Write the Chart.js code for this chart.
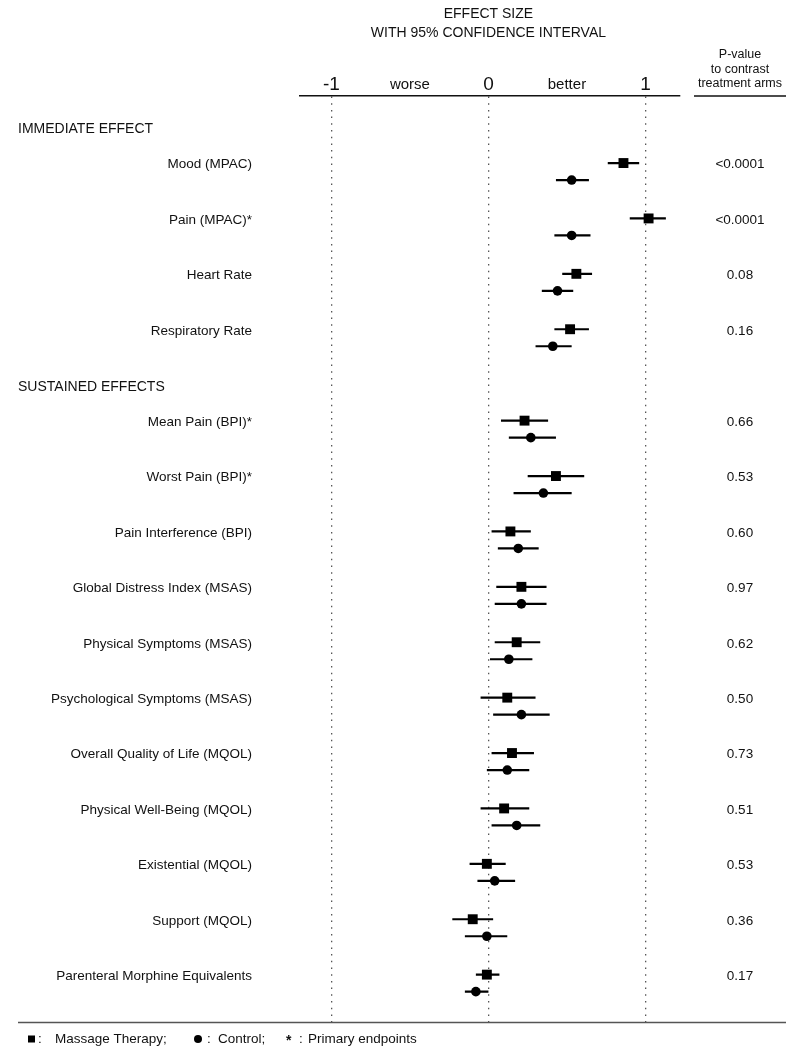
<!DOCTYPE html>
<html>
<head>
<meta charset="utf-8">
<script src="https://cdn.jsdelivr.net/npm/chart.js@4/dist/chart.umd.min.js"></script>
<style>
  html, body { margin: 0; padding: 0; background: #fff; }
  #wrap { position: relative; width: 800px; height: 1057px; }
</style>
</head>
<body>
<div id="wrap"><canvas id="c"></canvas></div>
<script>
// ---------- DATA ----------
const categories = [
  "Mood (MPAC)", "Pain (MPAC)*", "Heart Rate", "Respiratory Rate",
  "Mean Pain (BPI)*", "Worst Pain (BPI)*", "Pain Interference (BPI)",
  "Global Distress Index (MSAS)", "Physical Symptoms (MSAS)",
  "Psychological Symptoms (MSAS)", "Overall Quality of Life (MQOL)",
  "Physical Well-Being (MQOL)", "Existential (MQOL)", "Support (MQOL)",
  "Parenteral Morphine Equivalents"
];
const sectionNames = ["IMMEDIATE EFFECT", "SUSTAINED EFFECTS"];
const rowSection = [0, 0, 0, 0, 1, 1, 1, 1, 1, 1, 1, 1, 1, 1, 1];

const massage   = [0.86, 1.02, 0.56, 0.52, 0.23, 0.43, 0.14, 0.21, 0.18, 0.12, 0.15, 0.10, -0.01, -0.10, -0.01];
const massageLo = [0.76, 0.90, 0.47, 0.42, 0.08, 0.25, 0.02, 0.05, 0.04, -0.05, 0.02, -0.05, -0.12, -0.23, -0.08];
const massageHi = [0.96, 1.13, 0.66, 0.64, 0.38, 0.61, 0.27, 0.37, 0.33, 0.30, 0.29, 0.26, 0.11, 0.03, 0.07];

const control   = [0.53, 0.53, 0.44, 0.41, 0.27, 0.35, 0.19, 0.21, 0.13, 0.21, 0.12, 0.18, 0.04, -0.01, -0.08];
const controlLo = [0.43, 0.42, 0.34, 0.30, 0.13, 0.16, 0.06, 0.04, 0.01, 0.03, -0.01, 0.02, -0.07, -0.15, -0.15];
const controlHi = [0.64, 0.65, 0.54, 0.53, 0.43, 0.53, 0.32, 0.37, 0.28, 0.39, 0.26, 0.33, 0.17, 0.12, 0.00];

const pValues = ["<0.0001", "<0.0001", "0.08", "0.16", "0.66", "0.53", "0.60", "0.97",
                 "0.62", "0.50", "0.73", "0.51", "0.53", "0.36", "0.17"];

const xTickValues = [-1, -0.5, 0, 0.5, 1];
const xTickLabels = ["-1", "worse", "0", "better", "1"];

const titleLines = ["EFFECT SIZE", "WITH 95% CONFIDENCE INTERVAL"];
const pHeaderLines = ["P-value", "to contrast", "treatment arms"];
const legendItems = ["Massage Therapy;", "Control;", "Primary endpoints"];

// ---------- LAYOUT (row positions in row units) ----------
const FIRST_ROW = 1.21, SECTION_GAP = 0.65, HEADER_OFFSET = -0.61, PAIR_OFFSET = 0.307, LABEL_OFFSET = 0.03;
const rowY = [];
const headerY = [];
(function () {
  let y = FIRST_ROW;
  for (let i = 0; i < categories.length; i++) {
    if (i > 0 && rowSection[i] !== rowSection[i - 1]) y += SECTION_GAP;
    if (i === 0 || rowSection[i] !== rowSection[i - 1]) headerY.push(y + HEADER_OFFSET);
    rowY.push(y);
    y += 1;
  }
})();

const FONT = "'Liberation Sans', Arial, Helvetica, sans-serif";
const INK = '#111';

const massagePts = massage.map((v, i) => ({ x: v, y: rowY[i] }));
const controlPts = control.map((v, i) => ({ x: v, y: rowY[i] + PAIR_OFFSET }));

const decor = {
  id: 'decor',
  beforeDatasetsDraw(chart) {
    const { ctx, scales: { x, y } } = chart;
    ctx.save();
    ctx.strokeStyle = '#000';
    ctx.lineWidth = 2.2;
    ctx.lineCap = 'butt';
    for (let i = 0; i < categories.length; i++) {
      const y1 = y.getPixelForValue(rowY[i]);
      const y2 = y.getPixelForValue(rowY[i] + PAIR_OFFSET);
      ctx.beginPath();
      ctx.moveTo(x.getPixelForValue(massageLo[i]), y1);
      ctx.lineTo(x.getPixelForValue(massageHi[i]), y1);
      ctx.moveTo(x.getPixelForValue(controlLo[i]), y2);
      ctx.lineTo(x.getPixelForValue(controlHi[i]), y2);
      ctx.stroke();
    }
    ctx.restore();
  },
  afterDraw(chart) {
    const { ctx, chartArea, scales: { x, y } } = chart;
    ctx.save();
    ctx.fillStyle = INK;
    // Title
    ctx.font = `14px ${FONT}`;
    ctx.textAlign = 'center';
    ctx.textBaseline = 'middle';
    const cx = x.getPixelForValue(0);
    ctx.fillText(titleLines[0], cx, 14);
    ctx.fillText(titleLines[1], cx, 33);
    // P-value header
    const px = 740;
    ctx.font = `12.5px ${FONT}`;
    pHeaderLines.forEach((t, k) => ctx.fillText(t, px, 54.5 + k * 14.7));
    ctx.strokeStyle = '#111';
    ctx.lineWidth = 1.5;
    ctx.beginPath();
    ctx.moveTo(694, chartArea.top);
    ctx.lineTo(786, chartArea.top);
    ctx.stroke();
    // P-values
    ctx.font = `13.5px ${FONT}`;
    pValues.forEach((t, i) => ctx.fillText(t, px, y.getPixelForValue(rowY[i] + LABEL_OFFSET)));
    // Section headers
    ctx.textAlign = 'left';
    ctx.font = `14px ${FONT}`;
    sectionNames.forEach((t, k) => ctx.fillText(t, 18, y.getPixelForValue(headerY[k])));
    // Bottom rule
    ctx.strokeStyle = '#555';
    ctx.lineWidth = 1.5;
    ctx.beginPath();
    ctx.moveTo(18, chartArea.bottom + 0.5);
    ctx.lineTo(786, chartArea.bottom + 0.5);
    ctx.stroke();
    // Legend
    const ly = 1039;
    ctx.fillStyle = '#000';
    ctx.fillRect(28, ly - 3.5, 7, 7);
    ctx.beginPath();
    ctx.arc(198, ly, 4, 0, Math.PI * 2);
    ctx.fill();
    ctx.fillStyle = INK;
    ctx.font = `13.5px ${FONT}`;
    ctx.fillText(':', 38, ly);
    ctx.fillText(legendItems[0], 55, ly);
    ctx.fillText(':', 207, ly);
    ctx.fillText(legendItems[1], 218, ly);
    ctx.font = `bold 14px ${FONT}`;
    ctx.fillText('*', 286, ly + 2);
    ctx.font = `13.5px ${FONT}`;
    ctx.fillText(':', 299, ly);
    ctx.fillText(legendItems[2], 308, ly);
    ctx.restore();
  }
};

new Chart(document.getElementById('c'), {
  type: 'scatter',
  data: {
    datasets: [
      { label: 'Massage Therapy', data: massagePts, pointStyle: 'rect', pointRadius: 7,
        backgroundColor: '#000', borderWidth: 0 },
      { label: 'Control', data: controlPts, pointStyle: 'circle', pointRadius: 4.8,
        backgroundColor: '#000', borderWidth: 0 }
    ]
  },
  options: {
    responsive: true,
    maintainAspectRatio: false,
    animation: false,
    events: [],
    layout: { padding: { top: 0, left: 0, right: 120, bottom: 35 } },
    plugins: { legend: { display: false }, tooltip: { enabled: false } },
    scales: {
      x: {
        type: 'linear',
        position: 'top',
        min: -1.2,
        max: 1.22,
        afterFit(s) { s.height = 96; s.paddingLeft = 0; s.paddingRight = 0; },
        afterBuildTicks(s) { s.ticks = xTickValues.map(v => ({ value: v })); },
        ticks: {
          autoSkip: false,
          maxRotation: 0,
          padding: 0,
          color: INK,
          callback: (v, i) => xTickLabels[i],
          font: (ctx) => (ctx.tick && Number.isInteger(ctx.tick.value))
            ? { family: FONT, size: 19, lineHeight: 1.2 }
            : { family: FONT, size: 15, lineHeight: 1.5 }
        },
        grid: {
          drawTicks: false,
          lineWidth: 1.3,
          color: (ctx) => (ctx.tick && Number.isInteger(ctx.tick.value)) ? '#555' : 'rgba(0,0,0,0)'
        },
        border: { display: true, color: '#111', width: 1.5, dash: [1.5, 5.2] }
      },
      y: {
        type: 'linear',
        position: 'left',
        min: 0,
        max: 16.715,
        reverse: true,
        afterFit(s) { s.width = 300; s.paddingTop = 0; s.paddingBottom = 0; },
        afterBuildTicks(s) { s.ticks = rowY.map(v => ({ value: v + LABEL_OFFSET })); },
        ticks: {
          autoSkip: false,
          padding: 48,
          color: INK,
          font: { family: FONT, size: 13.5 },
          callback: (v, i) => categories[i]
        },
        grid: { display: false, drawTicks: false },
        border: { display: false }
      }
    }
  },
  plugins: [decor]
});
</script>
</body>
</html>
